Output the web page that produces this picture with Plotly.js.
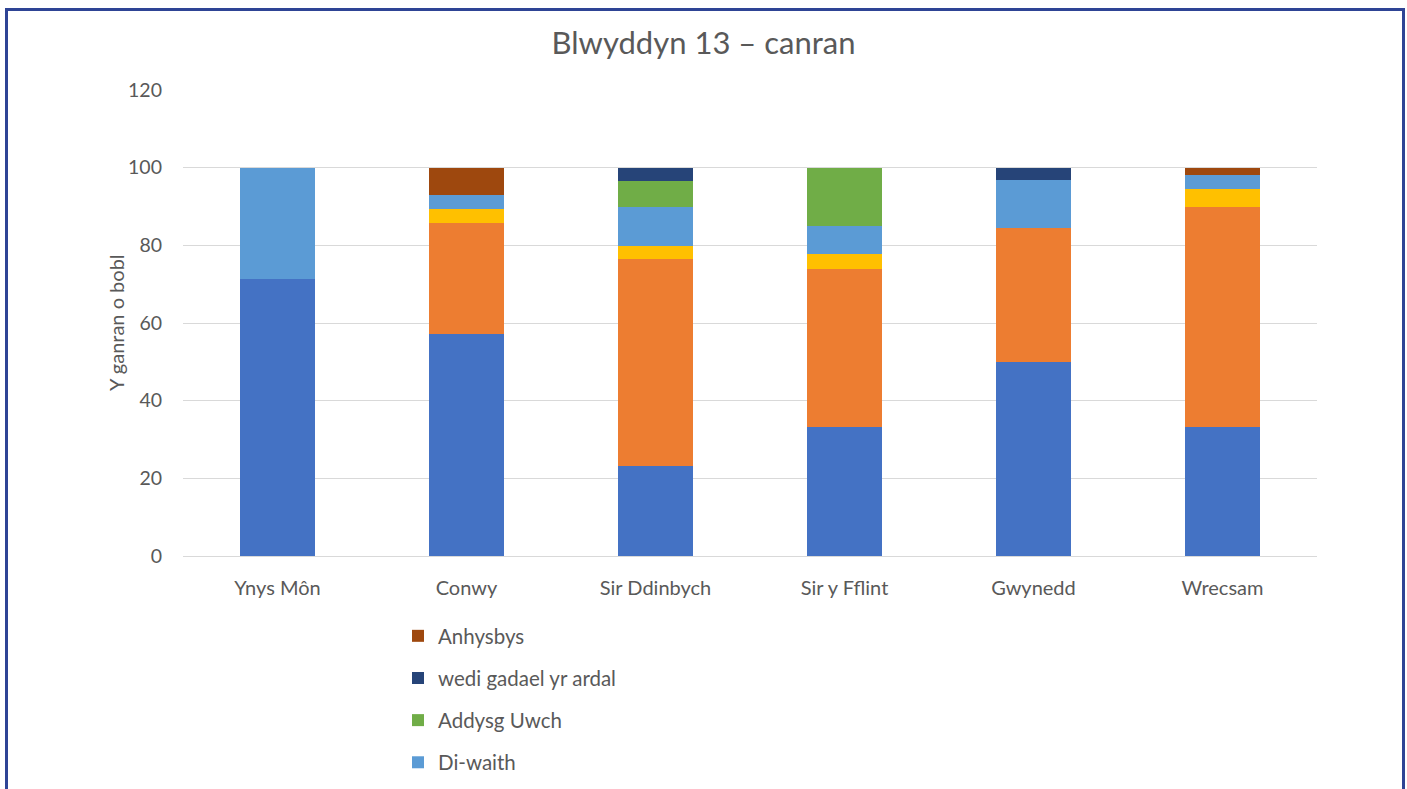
<!DOCTYPE html>
<html>
<head>
<meta charset="utf-8">
<script src="https://cdn.plot.ly/plotly-3.0.1.min.js"></script>
<style>
  html, body { margin: 0; padding: 0; overflow: hidden; background: #fff; }
  #wrap { position: relative; width: 1407px; height: 789px; overflow: hidden; }
  #chart { position: absolute; left: 0; top: 0; width: 1407px; height: 789px; }
  #frame { position: absolute; left: 5px; top: 8px; width: 1400px; height: 820px;
           border: 3px solid #2E4495; pointer-events: none; box-sizing: border-box; }
</style>
</head>
<body>
<div id="wrap">
  <div id="chart"></div>
  <div id="frame"></div>
</div>
<script>
// Categories (counties)
const categories = ["Ynys Môn", "Conwy", "Sir Ddinbych", "Sir y Fflint", "Gwynedd", "Wrecsam"];

// Series values (percent), bottom to top of each stack
const cyflogaeth      = [71.4, 57.1, 23.3, 33.3, 50.0, 33.3];
const addysgBellach   = [0,    28.6, 53.3, 40.7, 34.4, 56.7];
const hyfforddiant    = [0,    3.6,  3.3,  3.7,  0,    4.4];
const diWaith         = [28.6, 3.6,  10.0, 7.4,  12.5, 3.8];
const addysgUwch      = [0,    0,    6.7,  14.8, 0,    0];
const wediGadael      = [0,    0,    3.3,  0,    3.1,  0];
const anhysbys        = [0,    7.1,  0,    0,    0,    1.8];

const seriesNames = ["Cyflogaeth", "Addysg Bellach", "Hyfforddiant", "Di-waith",
                     "Addysg Uwch", "wedi gadael yr ardal", "Anhysbys"];
const seriesValues = [cyflogaeth, addysgBellach, hyfforddiant, diWaith,
                      addysgUwch, wediGadael, anhysbys];
const seriesColors = ["#4472C4", "#ED7D31", "#FFC000", "#5B9BD5",
                      "#70AD47", "#264478", "#9E480E"];
// Only the last four legend entries are visible in the cropped reference
const inLegend = [false, false, false, true, true, true, true];

const yTitle = "Y ganran o bobl";

const traces = seriesNames.map((name, i) => ({
  type: "bar",
  name: name,
  x: categories,
  y: seriesValues[i],
  marker: { color: seriesColors[i], line: { width: 0 } },
  legendgroup: "g" + i,
  legendrank: 100 - i,
  showlegend: inLegend[i],
  hovertemplate: "%{x}<br>" + name + ": %{y}<extra></extra>"
}));

const FONT = "Lato, 'Open Sans', sans-serif";

const layout = {
  width: 1407,
  height: 789,
  barmode: "stack",
  bargap: 0.6,
  paper_bgcolor: "#ffffff",
  plot_bgcolor: "#ffffff",
  font: { family: FONT, color: "#595959", size: 17 },
  margin: { l: 183, r: 90, t: 89.5, b: 233, pad: 0, autoexpand: false },
  title: {
    text: "Blwyddyn 13 – canran",
    font: { family: FONT, size: 31, color: "#595959" },
    x: 0.5, xanchor: "center", xref: "container",
    y: 1 - 43 / 789, yanchor: "middle", yref: "container"
  },
  xaxis: {
    type: "category",
    showgrid: false,
    showline: true,
    linecolor: "#D9D9D9",
    linewidth: 1,
    ticks: "",
    ticklabelstandoff: 14,
    tickfont: { family: FONT, size: 20, color: "#595959" },
    fixedrange: true
  },
  yaxis: {
    range: [0, 120],
    tickvals: [0, 20, 40, 60, 80, 100, 120],
    ticktext: ["0", "20", "40", "60", "80", "100", "120"],
    showgrid: true,
    gridcolor: "#D9D9D9",
    gridwidth: 1,
    zeroline: false,
    showline: false,
    ticks: "",
    ticklabelstandoff: 20,
    tickfont: { family: FONT, size: 19.5, color: "#595959" },
    fixedrange: true
  },
  annotations: [{
    text: yTitle,
    textangle: -90,
    xref: "paper", yref: "paper",
    x: (116 - 183) / 1134, y: 0.5,
    xanchor: "center", yanchor: "middle",
    showarrow: false,
    font: { family: FONT, size: 20, color: "#595959" }
  }],
  showlegend: true,
  legend: {
    orientation: "v",
    traceorder: "grouped",
    tracegroupgap: 12.5,
    xref: "container",
    yref: "container",
    x: 398 / 1407,
    xanchor: "left",
    y: 1 - 616 / 789,
    yanchor: "top",
    font: { family: FONT, size: 20.5, color: "#595959" },
    bgcolor: "rgba(0,0,0,0)",
    itemsizing: "constant"
  }
};

Plotly.newPlot("chart", traces, layout, { displayModeBar: false, staticPlot: true });
</script>
</body>
</html>
